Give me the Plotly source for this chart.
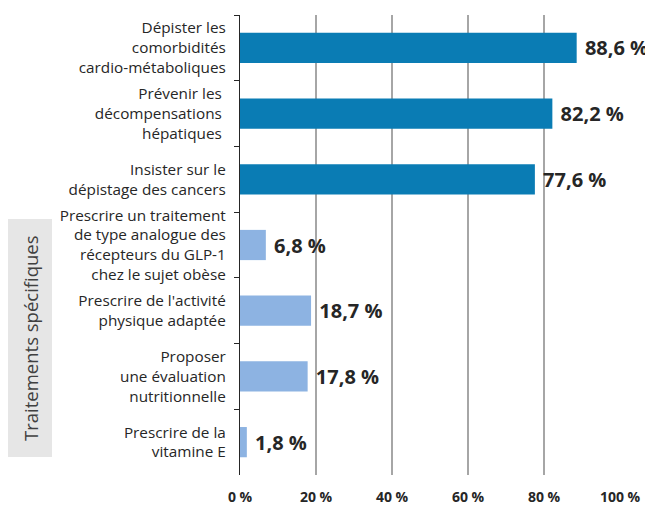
import plotly.graph_objects as go

categories = [
    "Dépister les<br>comorbidités<br>cardio-métaboliques",
    "Prévenir les <br>décompensations <br>hépatiques ",
    "Insister sur le<br>dépistage des cancers",
    "Prescrire un traitement<br>de type analogue des<br>récepteurs du GLP-1<br>chez le sujet obèse",
    "Prescrire de l'activité<br>physique adaptée",
    "Proposer<br>une évaluation<br>nutritionnelle",
    "Prescrire de la<br>vitamine E",
]
values = [88.6, 82.2, 77.6, 6.8, 18.7, 17.8, 1.8]
groups = ["dark", "dark", "dark", "light", "light", "light", "light"]
x_ticks = [0, 20, 40, 60, 80, 100]
x_tick_labels = ["0 %", "20 %", "40 %", "60 %", "80 %", "100 %"]
side_label = "Traitements spécifiques"

palette = {"dark": "#0a7cb4", "light": "#8db3e2"}
colors = [palette[g] for g in groups]
labels = ["\u00a0" + f"{v:.1f}".replace(".", ",") + "\u00a0%" for v in values]

font_family = "Open Sans, Lato, DejaVu Sans, sans-serif"

# page body has an 8px margin: compensate in figure size / margins
L, T, R, B = 232, 7, 33, 40
W, H = 645, 507
pw, ph = W - L - R, H - T - B

fig = go.Figure(go.Bar(
    x=values, y=categories, orientation="h",
    marker=dict(color=colors, line=dict(width=0)),
    text=labels, textposition="outside", cliponaxis=False,
    textfont=dict(size=20, color="#262626", family=font_family, weight="bold"),
    width=0.46,
))

fig.update_layout(
    width=W, height=H,
    margin=dict(l=L, r=R, t=T, b=B),
    paper_bgcolor="white", plot_bgcolor="white",
    showlegend=False,
    font=dict(family=font_family, color="#262626"),
    xaxis=dict(
        range=[0, 100], tickvals=x_ticks, ticktext=x_tick_labels,
        showgrid=True, gridcolor="#a6a6a6", gridwidth=1.5,
        zeroline=False, showline=False, ticks="",
        tickfont=dict(size=14, weight="bold", color="#262626"),
        ticklabelstandoff=12, automargin=False,
    ),
    yaxis=dict(
        autorange="reversed", showline=True, linecolor="#262626", linewidth=1.3,
        ticks="outside", tickson="boundaries", ticklen=5, tickcolor="#262626",
        tickwidth=1.3,
        tickfont=dict(size=15.3, color="#262626"),
        ticklabelstandoff=10,
        showgrid=False, automargin=False,
    ),
)

# pixel positions below are relative to the plot area (0..pw, 0..ph)
fig.add_shape(type="rect", xref="paper", yref="paper",
              x0=(0 - L) / pw, x1=(44 - L) / pw,
              y0=(ph - 442) / ph, y1=(ph - 204) / ph,
              fillcolor="#e6e6e6", line=dict(width=0), layer="below")
fig.add_annotation(xref="paper", yref="paper",
                   x=(22 - L) / pw, y=(ph - 323) / ph,
                   text=side_label, textangle=-90, showarrow=False,
                   font=dict(size=18.5, color="#404040"),
                   xanchor="center", yanchor="middle")

fig.write_html("out.html")
